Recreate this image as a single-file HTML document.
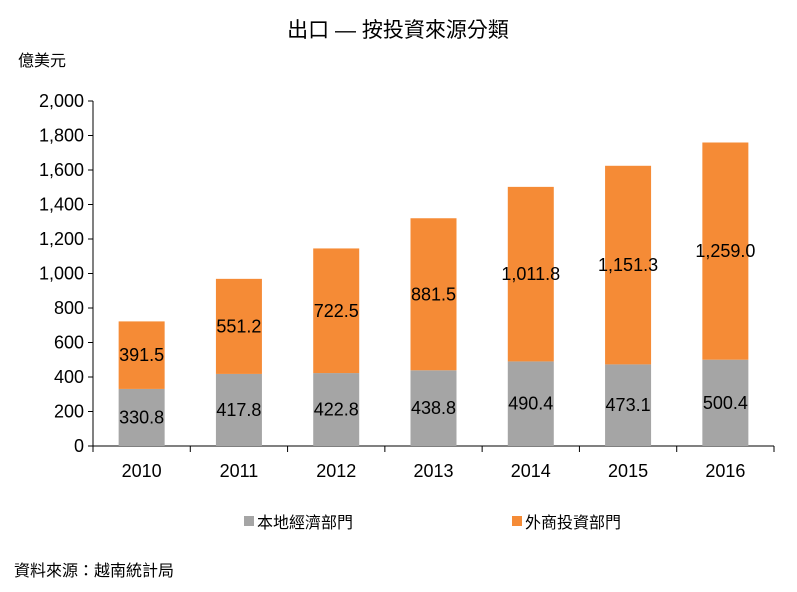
<!DOCTYPE html>
<html><head><meta charset="utf-8"><style>
body{margin:0;background:#fff;}
svg{display:block;font-family:"Liberation Sans","Noto Sans CJK TC",sans-serif;}
</style></head><body>
<svg id="chart" width="797" height="592">
<text x="398" y="37" text-anchor="middle" font-size="21" fill="#000">出口 — 按投資來源分類</text>
<text x="18" y="66" font-size="16" fill="#000">億美元</text>
<g id="yaxis"></g><g id="xaxis"></g><g id="bars"></g>
<g>
<rect x="244" y="516" width="10" height="10" fill="#a5a5a5"/>
<text x="257" y="528" font-size="16">本地經濟部門</text>
<rect x="512" y="516" width="10" height="10" fill="#f58b36"/>
<text x="525" y="528" font-size="16">外商投資部門</text>
</g>
<text x="14" y="576" font-size="16">資料來源：越南統計局</text>
</svg>
<script>
const categories=["2010","2011","2012","2013","2014","2015","2016"];
const localValues=[330.8,417.8,422.8,438.8,490.4,473.1,500.4];
const foreignValues=[391.5,551.2,722.5,881.5,1011.8,1151.3,1259.0];
const yTicks=[0,200,400,600,800,1000,1200,1400,1600,1800,2000];
const NS="http://www.w3.org/2000/svg";
const x0=93,x1=774,y0=446,yTop=101,yMax=2000;
const slot=(x1-x0)/categories.length;
const y=v=>y0-(v/yMax)*(y0-yTop);
const xc=i=>x0+slot*(i+0.5);
function mk(tag,attrs,parent){const e=document.createElementNS(NS,tag);for(const k in attrs)e.setAttribute(k,attrs[k]);parent.appendChild(e);return e;}
const ya=document.getElementById('yaxis'),xa=document.getElementById('xaxis'),bg=document.getElementById('bars');
let l=mk('line',{x1:x0,y1:yTop,x2:x0,y2:y0,stroke:'#000'},ya);


yTicks.forEach(t=>{
 let tk=mk('line',{x1:x0-5,y1:y(t),x2:x0,y2:y(t),stroke:'#000'},ya);
 
 
 let tx=mk('text',{x:x0-9,y:y(t)+6,'text-anchor':'end','font-size':18},ya);
 tx.textContent=t.toLocaleString('en-US');
 
 
});
let xl=mk('line',{x1:x0,y1:y0,x2:x1,y2:y0,stroke:'#000'},xa);


for(let i=0;i<=categories.length;i++){
 let tk=mk('line',{x1:x0+slot*i,y1:y0,x2:x0+slot*i,y2:y0+6,stroke:'#000'},xa);
 
 
}
const bw=46;
categories.forEach((c,i)=>{
 let tx=mk('text',{x:xc(i),y:y0+31,'text-anchor':'middle','font-size':18},xa);
 tx.textContent=c;
 
 
 const a=localValues[i],b=foreignValues[i];
 let r1=mk('rect',{x:xc(i)-bw/2,y:y(a),width:bw,height:y0-y(a),fill:'#a5a5a5'},bg);
 
 
 let r2=mk('rect',{x:xc(i)-bw/2,y:y(a+b),width:bw,height:y(a)-y(a+b),fill:'#f58b36'},bg);
 
 
 let t1=mk('text',{x:xc(i),y:y(a/2)+6,'text-anchor':'middle','font-size':18},bg);
 t1.textContent=a.toLocaleString('en-US',{minimumFractionDigits:1});
 
 
 let t2=mk('text',{x:xc(i),y:y(a+b/2)+6,'text-anchor':'middle','font-size':18},bg);
 t2.textContent=b.toLocaleString('en-US',{minimumFractionDigits:1});
 
 
});
</script>
</body></html>
